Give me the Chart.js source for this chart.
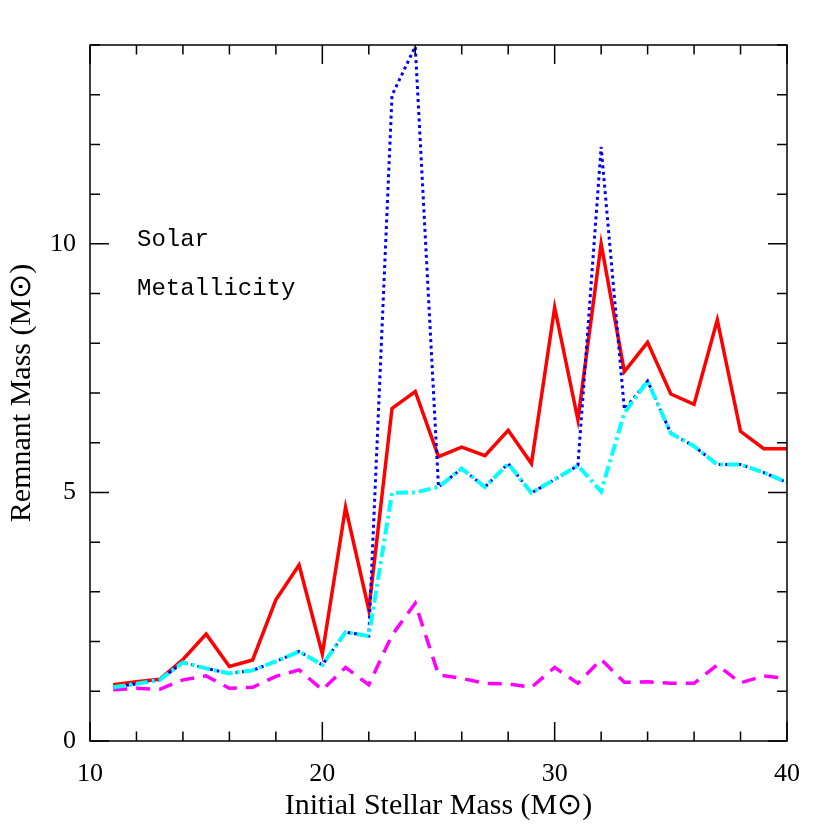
<!DOCTYPE html>
<html><head><meta charset="utf-8">
<script src="https://cdn.jsdelivr.net/npm/chart.js@4/dist/chart.umd.min.js"></script>
<style>html,body{margin:0;padding:0;background:#fff}</style>
</head><body>
<canvas id="c" width="830" height="830"></canvas>
<script>
const masses = [11,12,13,14,15,16,17,18,19,20,21,22,23,24,25,26,27,28,29,30,31,32,33,34,35,36,37,38,39,40];
const redSolid = [1.13,1.19,1.24,1.64,2.15,1.50,1.63,2.84,3.54,1.75,4.70,2.64,6.69,7.03,5.72,5.91,5.74,6.25,5.58,8.72,6.46,10.0,7.43,8.02,6.98,6.77,8.47,6.23,5.88,5.88];
const blueDotted = [1.08,1.15,1.23,1.58,1.46,1.36,1.42,1.60,1.80,1.53,2.19,2.11,12.99,13.97,5.11,5.48,5.11,5.58,4.99,5.26,5.54,11.95,6.67,7.24,6.19,5.93,5.56,5.56,5.40,5.20];
const cyanDashDot = [1.08,1.15,1.23,1.58,1.46,1.36,1.42,1.60,1.80,1.53,2.19,2.11,4.99,5.00,5.11,5.48,5.11,5.58,4.99,5.26,5.54,5.02,6.60,7.24,6.19,5.93,5.56,5.56,5.40,5.20];
const magentaDashed = [1.03,1.06,1.04,1.23,1.31,1.06,1.08,1.30,1.43,1.03,1.48,1.13,2.13,2.77,1.33,1.26,1.16,1.15,1.08,1.48,1.16,1.64,1.18,1.19,1.16,1.16,1.53,1.17,1.31,1.26];
const xTickLabels = [10,20,30,40];
const yTickLabels = [0,5,10];
const annotationLines = ['Solar','Metallicity'];

const pts = arr => masses.map((m,i)=>({x:m,y:arr[i]}));

const framePlugin = {
  id:'frame',
  afterDatasetsDraw(chart){
    const {ctx, chartArea:a, scales:{x,y}} = chart;
    ctx.save();
    ctx.strokeStyle='#000'; ctx.lineWidth=1.5;
    ctx.strokeRect(a.left,a.top,a.right-a.left,a.bottom-a.top);
    ctx.beginPath();
    for(let v=10; v<=40; v+=2){
      const px=x.getPixelForValue(v);
      const len = (v%10===0)?19:9.5;
      ctx.moveTo(px,a.bottom); ctx.lineTo(px,a.bottom-len);
      ctx.moveTo(px,a.top); ctx.lineTo(px,a.top+len);
    }
    for(let v=0; v<=14; v+=1){
      const py=y.getPixelForValue(v);
      const len = (v%5===0)?19:10;
      ctx.moveTo(a.left,py); ctx.lineTo(a.left+len,py);
      ctx.moveTo(a.right,py); ctx.lineTo(a.right-len,py);
    }
    ctx.stroke();
    ctx.fillStyle='#000';
    ctx.font='24px "Liberation Mono"';
    ctx.textBaseline='alphabetic';
    ctx.fillText(annotationLines[0],137,246);
    ctx.fillText(annotationLines[1],137,295);
    ctx.restore();
  }
};

const tickFont = {family:'"Liberation Serif"', size:26};
const titleFont = {family:'"Liberation Serif"', size:30};

new Chart(document.getElementById('c'), {
  type:'line',
  data:{datasets:[
    {data:pts(cyanDashDot), borderColor:'#00ffff', borderWidth:4, borderDash:[12,4,3,4], pointRadius:0, tension:0, order:0},
    {data:pts(blueDotted), borderColor:'#0000ff', borderWidth:3, borderDash:[3,3.5], pointRadius:0, tension:0, order:1},
    {data:pts(redSolid), borderColor:'#ff0000', borderWidth:3.5, pointRadius:0, tension:0, order:2},
    {data:pts(magentaDashed), borderColor:'#ff00ff', borderWidth:3.5, borderDash:[14,9], pointRadius:0, tension:0, order:3}
  ]},
  options:{
    responsive:false, animation:false, devicePixelRatio:1,
    layout:{padding:{top:45,right:43,left:0,bottom:0}},
    plugins:{legend:{display:false}, tooltip:{enabled:false}},
    scales:{
      x:{type:'linear', min:10, max:40,
        afterFit:s=>{s.height=89;},
        afterBuildTicks:s=>{s.ticks=xTickLabels.map(v=>({value:v}));},
        ticks:{font:tickFont, color:'#000', padding:18, maxRotation:0, autoSkip:false},
        grid:{display:false, drawTicks:false}, border:{display:false},
        title:{display:true, text:'Initial Stellar Mass (M⊙)', font:titleFont, color:'#000', padding:{top:6,bottom:6}}
      },
      y:{type:'linear', min:0, max:14,
        afterFit:s=>{s.width=90;},
        afterBuildTicks:s=>{s.ticks=yTickLabels.map(v=>({value:v}));},
        ticks:{font:tickFont, color:'#000', padding:14, autoSkip:false},
        grid:{display:false, drawTicks:false}, border:{display:false},
        title:{display:true, text:'Remnant Mass (M⊙)', font:titleFont, color:'#000', padding:{top:4,bottom:4}}
      }
    }
  },
  plugins:[framePlugin]
});
</script>
</body></html>
